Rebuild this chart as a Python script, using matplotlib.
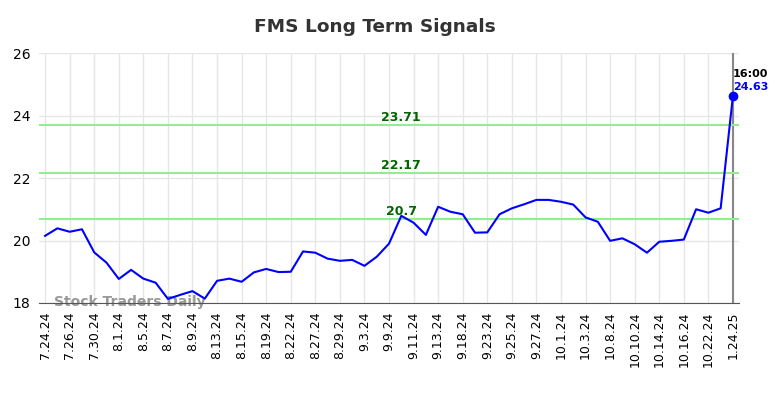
import matplotlib
matplotlib.use("Agg")
import matplotlib.pyplot as plt

# tick labels every 2nd point
tick_labels = ["7.24.24", "7.26.24", "7.30.24", "8.1.24", "8.5.24", "8.7.24", "8.9.24",
               "8.13.24", "8.15.24", "8.19.24", "8.22.24", "8.27.24", "8.29.24", "9.3.24",
               "9.9.24", "9.11.24", "9.13.24", "9.18.24", "9.23.24", "9.25.24", "9.27.24",
               "10.1.24", "10.3.24", "10.8.24", "10.10.24", "10.14.24", "10.16.24",
               "10.22.24", "1.24.25"]

prices = [20.15, 20.39, 20.28, 20.36, 19.62, 19.29, 18.77, 19.06, 18.78, 18.65,
          18.13, 18.26, 18.38, 18.14, 18.71, 18.78, 18.68, 18.98, 19.09, 18.99,
          19.00, 19.65, 19.61, 19.42, 19.35, 19.38, 19.19, 19.48, 19.90, 20.79,
          20.57, 20.18, 21.08, 20.92, 20.84, 20.25, 20.26, 20.84, 21.03, 21.16,
          21.30, 21.30, 21.24, 21.15, 20.74, 20.60, 19.99, 20.07, 19.88, 19.61,
          19.96, 19.99, 20.03, 21.00, 20.89, 21.03, 24.63]

signals = [23.71, 22.17, 20.7]
last_time = "16:00"

fig = plt.figure(figsize=(7.84, 3.98), dpi=100)
ax = fig.add_axes([0.0497, 0.2387, 0.893, 0.628])

x = list(range(len(prices)))
ax.plot(x, prices, color="blue", lw=1.5, zorder=3)
ax.plot([x[-1]], [prices[-1]], "o", color="blue", ms=6, zorder=4)
ax.axvline(x[-1], color="#888888", lw=1.5, zorder=2)

for s in signals:
    ax.axhline(s, color="#90EE90", lw=1.5, zorder=2)
    ax.text(29, s + 0.03, f"{s:g}", color="#006400", fontsize=9, weight="bold",
            ha="center", va="bottom")

ax.text(x[-1], prices[-1] + 0.53, last_time, fontsize=8, weight="bold", color="black",
        ha="left", va="bottom")
ax.text(x[-1], prices[-1] + 0.13, f"{prices[-1]:.2f}", fontsize=8, weight="bold",
        color="blue", ha="left", va="bottom")

ax.text(0.7, 18.03, "Stock Traders Daily", fontsize=10, weight="bold", color="#999999",
        ha="left", va="center", zorder=1)

ax.set_xlim(-0.5, 56.5)
ax.set_ylim(18, 26)
ax.set_yticks([18, 20, 22, 24, 26])
ax.set_xticks(x[::2])
ax.set_xticklabels(tick_labels, rotation=90, fontsize=9)
ax.tick_params(axis="both", length=0, pad=6)
ax.tick_params(axis="y", labelsize=10)
ax.grid(True, color="#e6e6e6", lw=1)
ax.set_axisbelow(True)
for sp in ["top", "right", "left"]:
    ax.spines[sp].set_visible(False)
ax.spines["bottom"].set_color("#555555")

fig.suptitle("FMS Long Term Signals", x=0.478, y=0.955, fontsize=13.3, weight="bold",
             color="#333333")

fig.savefig("out.png", dpi=100)
